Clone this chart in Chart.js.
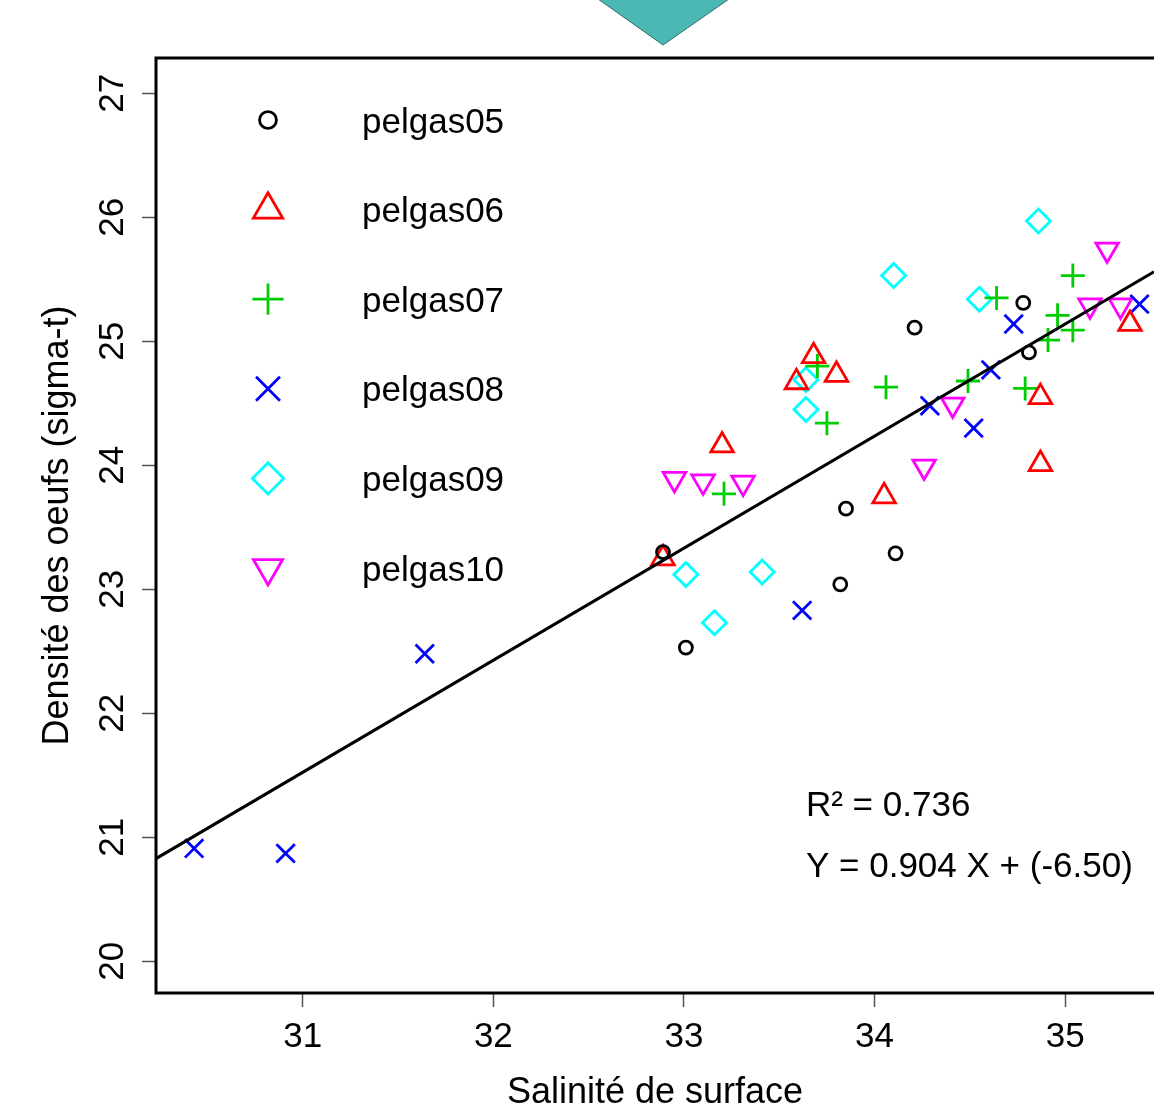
<!DOCTYPE html>
<html>
<head>
<meta charset="utf-8">
<script src="https://cdn.jsdelivr.net/npm/chart.js"></script>
<style>
  html, body { margin: 0; padding: 0; background: #fff; overflow: hidden; }
  #wrap { position: relative; width: 1154px; height: 1115px; }
  #arrow { position: absolute; left: 0; top: 0; }
</style>
</head>
<body>
<div id="wrap">
  <canvas id="chart" width="1154" height="1115"></canvas>
  <svg id="arrow" width="1154" height="60"><polygon points="598,-1 729,-1 663,45" fill="#4bb8b4" stroke="#2f6f6c" stroke-width="1"/></svg>
</div>
<script>
// axis setup
const xTicks = [31, 32, 33, 34, 35];
const yTicks = [20, 21, 22, 23, 24, 25, 26, 27];
const xRange = [30.23, 35.466];
const yRange = [19.744, 27.285];

const seriesNames = ['pelgas05', 'pelgas06', 'pelgas07', 'pelgas08', 'pelgas09', 'pelgas10'];

// salinity (x) / egg density (y) per survey
const pelgas05X = [32.89, 33.01, 33.82, 33.85, 34.11, 34.21, 34.78, 34.81];
const pelgas05Y = [23.30, 22.53, 23.04, 23.65, 23.29, 25.11, 25.31, 24.91];

const pelgas06X = [32.89, 33.20, 33.59, 33.68, 33.80, 34.05, 34.87, 34.87, 35.34];
const pelgas06Y = [23.25, 24.16, 24.67, 24.88, 24.73, 23.75, 24.55, 24.01, 25.14];

const pelgas07X = [33.21, 33.70, 33.75, 34.06, 34.49, 34.64, 34.79, 34.91, 34.96, 35.04, 35.04];
const pelgas07Y = [23.77, 24.80, 24.34, 24.63, 24.68, 25.35, 24.62, 25.01, 25.21, 25.09, 25.53];

const pelgas08X = [30.43, 30.91, 31.64, 33.62, 34.29, 34.52, 34.61, 34.73, 35.39];
const pelgas08Y = [20.91, 20.87, 22.48, 22.83, 24.48, 24.30, 24.77, 25.14, 25.30];

const pelgas09X = [33.01, 33.41, 33.16, 33.64, 33.64, 34.10, 34.55, 34.86];
const pelgas09Y = [23.12, 23.14, 22.73, 24.45, 24.69, 25.53, 25.34, 25.97];

const pelgas10X = [32.95, 33.10, 33.31, 34.26, 34.41, 35.13, 35.29, 35.22];
const pelgas10Y = [23.89, 23.87, 23.86, 23.99, 24.49, 25.29, 25.29, 25.74];

// regression shown on the chart
const fitSlope = 0.904;
const fitIntercept = -6.50;
const fitLabels = ['R² = 0.736', 'Y = 0.904 X + (-6.50)'];

const seriesX = [pelgas05X, pelgas06X, pelgas07X, pelgas08X, pelgas09X, pelgas10X];
const seriesY = [pelgas05Y, pelgas06Y, pelgas07Y, pelgas08Y, pelgas09Y, pelgas10Y];

const FONT = "'Liberation Sans', Arial, sans-serif";

const styles = [
  { color: '#000000', pointStyle: 'circle', radius: 6.5, rotation: 0 },
  { color: '#ff0000', pointStyle: 'triangle', radius: 13, rotation: 0 },
  { color: '#00cd00', pointStyle: 'cross', radius: 12, rotation: 0 },
  { color: '#0000ff', pointStyle: 'crossRot', radius: 13, rotation: 0 },
  { color: '#00ffff', pointStyle: 'rectRot', radius: 12, rotation: 0 },
  { color: '#ff00ff', pointStyle: 'triangle', radius: 13, rotation: 180 },
];

const pointSets = seriesNames.map((name, i) => ({
  type: 'scatter',
  label: name,
  data: seriesX[i].map((x, j) => ({ x, y: seriesY[i][j] })),
  pointStyle: styles[i].pointStyle,
  rotation: styles[i].rotation,
  pointRadius: styles[i].radius,
  borderColor: styles[i].color,
  backgroundColor: 'rgba(0,0,0,0)',
  borderWidth: 2.8,
}));

const fitLine = {
  type: 'line',
  label: 'fit',
  data: xRange.map(x => ({ x, y: fitSlope * x + fitIntercept })),
  borderColor: '#000',
  borderWidth: 3,
  pointRadius: 0,
  fill: false,
};

const frame = {
  id: 'frame',
  afterDatasetsDraw(chart) {
    const ctx = chart.ctx;
    const area = chart.chartArea;
    const xs = chart.scales.x;
    const ys = chart.scales.y;

    // legend
    ctx.save();
    seriesNames.forEach((name, i) => {
      const y = area.top + 62 + i * 89.6;
      ctx.strokeStyle = styles[i].color;
      ctx.fillStyle = 'rgba(0,0,0,0)';
      ctx.lineWidth = 2.8;
      Chart.helpers.drawPoint(ctx, {
        pointStyle: styles[i].pointStyle,
        rotation: styles[i].rotation,
        radius: styles[i].radius * 1.3,
        borderWidth: 2.8,
      }, area.left + 112, y);
      ctx.fillStyle = '#000';
      ctx.font = '35px ' + FONT;
      ctx.textAlign = 'left';
      ctx.textBaseline = 'middle';
      ctx.fillText(name, area.left + 206, y + 3);
    });

    // regression text
    ctx.fillStyle = '#000';
    ctx.font = '35px ' + FONT;
    ctx.textAlign = 'left';
    ctx.textBaseline = 'middle';
    ctx.fillText(fitLabels[0], xs.getPixelForValue(33.64), ys.getPixelForValue(21.25));
    ctx.fillText(fitLabels[1], xs.getPixelForValue(33.64), ys.getPixelForValue(20.76));
    ctx.restore();
  },
  afterDraw(chart) {
    const ctx = chart.ctx;
    const a = chart.chartArea;
    ctx.save();
    ctx.strokeStyle = '#000';
    ctx.lineWidth = 3;
    ctx.beginPath();
    ctx.moveTo(chart.width + 5, a.top);
    ctx.lineTo(a.left, a.top);
    ctx.lineTo(a.left, a.bottom);
    ctx.lineTo(chart.width + 5, a.bottom);
    ctx.stroke();
    ctx.restore();
  },
};

new Chart(document.getElementById('chart'), {
  data: { datasets: [fitLine, ...pointSets] },
  options: {
    responsive: false,
    animation: false,
    events: [],
    layout: { autoPadding: false, padding: { top: 58, left: 0, right: 0, bottom: 0 } },
    plugins: { legend: { display: false }, tooltip: { enabled: false } },
    scales: {
      x: {
        type: 'linear',
        min: xRange[0],
        max: xRange[1],
        afterBuildTicks: s => { s.ticks = xTicks.map(v => ({ value: v })); },
        afterFit: s => { s.height = 122; },
        border: { display: false },
        grid: { drawOnChartArea: false, tickLength: 14, tickColor: '#555', tickWidth: 1.5 },
        ticks: { font: { size: 35, family: FONT }, color: '#000', padding: 9, maxRotation: 0, autoSkip: false },
        title: { display: true, text: 'Salinité de surface', color: '#000',
                 font: { size: 36, family: FONT }, padding: { top: 0, bottom: 0 } },
      },
      y: {
        type: 'linear',
        min: yRange[0],
        max: yRange[1],
        afterBuildTicks: s => { s.ticks = yTicks.map(v => ({ value: v })); },
        afterFit: s => { s.width = 156; },
        border: { display: false },
        grid: { drawOnChartArea: false, tickLength: 14, tickColor: '#555', tickWidth: 1.5 },
        ticks: { font: { size: 35, family: FONT }, color: '#000', padding: 9.5,
                 minRotation: 90, maxRotation: 90, crossAlign: 'center', autoSkip: false },
        title: { display: true, text: 'Densité des oeufs (sigma-t)', color: '#000',
                 font: { size: 36, family: FONT }, padding: { top: 36, bottom: 0 } },
      },
    },
  },
  plugins: [frame],
});
</script>
</body>
</html>
